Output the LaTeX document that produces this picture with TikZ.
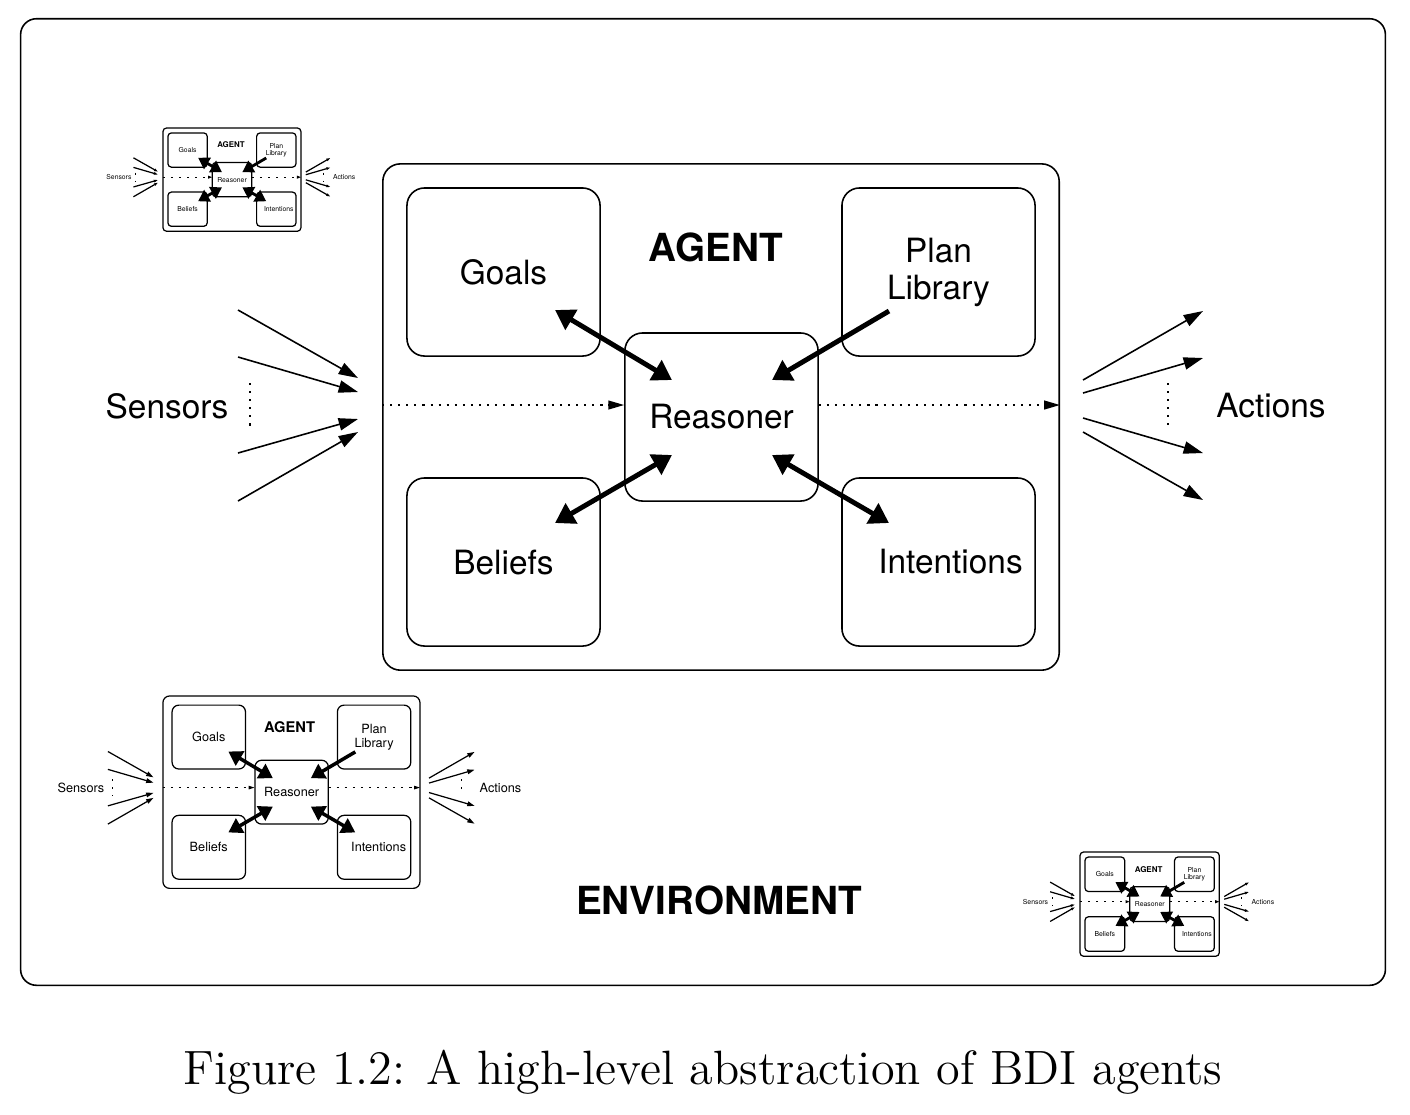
\documentclass[tikz,border=0pt]{standalone}
\usepackage{fontspec}
\setsansfont{TeX Gyre Heros}
\usetikzlibrary{arrows.meta}

% sizes used by the styles below are set by \bdiagent for each copy
\tikzset{
  agframe/.style={draw, rounded corners=\agrc pt, minimum width=6.76cm, minimum height=5.06cm},
  agbox/.style={draw, rounded corners=\agrc pt, minimum width=1.93cm, minimum height=1.68cm,
    align=center, font=\sffamily\fontsize{9.5}{10.5}\selectfont},
  agtext/.style={font=\sffamily\fontsize{9.5}{10.5}\selectfont},
  agtitle/.style={font=\sffamily\bfseries\fontsize{11}{13}\selectfont},
  bigarrow/.style={line width=\agthick pt, -{Triangle[length=\agbl pt, width=\agbw pt]}},
  bigboth/.style={line width=\agthick pt,
    {Triangle[length=\agbl pt, width=\agbw pt]}-{Triangle[length=\agbl pt, width=\agbw pt]}},
  thinarrow/.style={-{Triangle[length=\agtl pt, width=\agtw pt]}},
  dotline/.style={dash pattern=on 0.6pt off 1.7pt},
  dotarrow/.style={dotline, -{Triangle[length=\agdl pt, width=\agdw pt]}},
}

% #1 name, #2 top left corner of the agent box, #3 scale
\newcommand{\bdiagent}[3]{%
  \pgfmathsetmacro{\agthin}{max(0.35,0.45*#3)}%
  \pgfmathsetmacro{\agthick}{1.4*(#3)^0.35}%
  \pgfmathsetmacro{\agbl}{3.9*\agthick}%
  \pgfmathsetmacro{\agbw}{4.6*\agthick}%
  \pgfmathsetmacro{\agtl}{5.5*#3}%
  \pgfmathsetmacro{\agtw}{3.5*#3}%
  \pgfmathsetmacro{\agdl}{max(1.2,4.5*#3)}%
  \pgfmathsetmacro{\agdw}{max(0.8,2.5*#3)}%
  \pgfmathsetmacro{\agrc}{5*#3}%
  \begin{scope}[shift={#2}, scale=#3, transform shape, line width=\agthin pt]
    \node[agframe] (#1) at (338,253) {};
    \node[agtitle] (#1-title) at (333,83) {AGENT};
    \node[agbox] (#1-goals) at (120.5,108) {Goals};
    \node[agbox] (#1-plans) at (555.5,108) {Plan\\Library};
    \node[agbox] (#1-beliefs) at (120.5,398) {Beliefs};
    \node[agbox] (#1-intent) at (555.5,398) {\hspace*{0.24cm}Intentions};
    \node[agbox] (#1-reason) at (338.5,253) {Reasoner};
    % ends of the thick arrows
    \coordinate (#1-g) at (172,146);  \coordinate (#1-rg) at (289,216);
    \coordinate (#1-p) at (506,147);  \coordinate (#1-rp) at (389,216);
    \coordinate (#1-b) at (172,359);  \coordinate (#1-rb) at (289,291);
    \coordinate (#1-i) at (506,359);  \coordinate (#1-ri) at (389,291);
    \draw[bigboth] (#1-g) -- (#1-rg);
    \draw[bigarrow] (#1-p) -- (#1-rp);
    \draw[bigboth] (#1-b) -- (#1-rb);
    \draw[bigboth] (#1-i) -- (#1-ri);
    % flow through the agent
    \coordinate (#1-flow) at (338,241);
    \draw[dotarrow] (#1.west |- #1-flow) -- (#1-reason.west |- #1-flow);
    \draw[dotarrow] (#1-reason.east |- #1-flow) -- (#1.east |- #1-flow);
    % sensors
    \node[agtext] (#1-sens) at (-216,242) {Sensors};
    \coordinate (#1-sdt) at (-133,219); \coordinate (#1-sdb) at (-133,264);
    \draw[dotline] (#1-sdt) -- (#1-sdb);
    \foreach \ya/\yb [count=\k] in {146/214,193/228,289/255,337/268}{
      \coordinate (#1-s\k) at (-145,\ya); \coordinate (#1-se\k) at (-25,\yb);
      \draw[thinarrow] (#1-s\k) -- (#1-se\k);
    }
    % actions
    \node[agtext] (#1-act) at (888,242) {Actions};
    \coordinate (#1-adt) at (785,219); \coordinate (#1-adb) at (785,261);
    \draw[dotline] (#1-adt) -- (#1-adb);
    \foreach \ya/\yb [count=\k] in {216/147,229/194,254/289,268/336}{
      \coordinate (#1-a\k) at (700,\ya); \coordinate (#1-ae\k) at (820,\yb);
      \draw[thinarrow] (#1-a\k) -- (#1-ae\k);
    }
  \end{scope}}

\begin{document}
\begin{tikzpicture}[x=0.01cm, y=-0.01cm]
  \useasboundingbox (0,0) rectangle (1410,1114);
  \node[draw, line width=0.45pt, rounded corners=4.5pt, minimum width=13.64cm, minimum height=9.66cm]
    (env) at (703,502) {};
  \node[font=\sffamily\bfseries\fontsize{11}{13}\selectfont] (envtitle) at (719,900) {ENVIRONMENT};

  \bdiagent{main}{(383,164)}{1}
  \bdiagent{small}{(163,128)}{0.204}
  \bdiagent{mid}{(163,696)}{0.38}
  \bdiagent{low}{(1080,852)}{0.206}

  \node[font=\fontsize{13.7}{16}\selectfont] (caption) at (703,1072)
    {Figure 1.2: A high-level abstraction of BDI agents};
\end{tikzpicture}
\end{document}
